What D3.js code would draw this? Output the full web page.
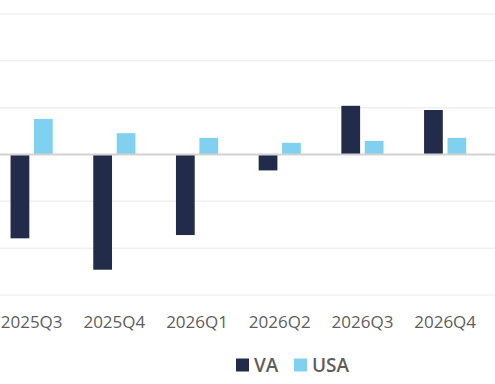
<!DOCTYPE html>
<html><head><meta charset="utf-8">
<script src="https://cdn.jsdelivr.net/npm/d3@7"></script>
<style>body{margin:0;background:#fff}svg{display:block}</style>
</head><body>
<svg id="c" width="495" height="384"></svg>
<script>
const categories = ["2025Q3","2025Q4","2026Q1","2026Q2","2026Q3","2026Q4"];
const seriesNames = ["VA","USA"];
const vaValues = [-1.79,-2.46,-1.72,-0.34,1.04,0.95];
const usaValues = [0.76,0.455,0.355,0.25,0.29,0.355];
const yTicks = [-3,-2,-1,0,1,2,3];
const colors = ["#222b4a","#80d0ef"];

const svg = d3.select("#c");
const x0 = d3.scaleBand().domain(categories).range([-9.7,486.5]).paddingInner(0.49).paddingOuter(0.245);
const x1 = d3.scaleBand().domain(seriesNames).range([0,x0.bandwidth()]).paddingInner(0.2);
const y = d3.scaleLinear().domain([-3,3]).range([295,14]);

svg.append("g").selectAll("line").data(yTicks.filter(d=>d!==0)).join("line")
  .attr("x1",0).attr("x2",495).attr("y1",d=>y(d)).attr("y2",d=>y(d))
  .attr("stroke","#f0f0f0").attr("stroke-width",1.5);

const data = categories.map((c,i)=>({c, vals:[vaValues[i],usaValues[i]]}));
const g = svg.append("g").selectAll("g").data(data).join("g")
  .attr("transform",d=>`translate(${x0(d.c)},0)`);
g.selectAll("rect").data(d=>d.vals.map((v,j)=>({s:seriesNames[j],v,j}))).join("rect")
  .attr("x",d=>x1(d.s)).attr("width",x1.bandwidth())
  .attr("y",d=>y(Math.max(0,d.v))).attr("height",d=>Math.abs(y(d.v)-y(0)))
  .attr("fill",d=>colors[d.j]);

svg.append("line").attr("x1",0).attr("x2",495).attr("y1",y(0)).attr("y2",y(0))
  .attr("stroke","#d2d2d2").attr("stroke-width",2);

const xAxis = svg.append("g");
xAxis.selectAll("text").data(categories).join("text")
  .attr("x",d=>x0(d)+x0.bandwidth()/2).attr("y",327.5)
  .attr("text-anchor","middle").attr("fill","#605e5c")
  .attr("font-family","'Open Sans', sans-serif").attr("font-size",17)
  .text(d=>d);

const leg = svg.append("g");
const legX = [236,294];
seriesNames.forEach((s,i)=>{
  leg.append("rect").attr("x",legX[i]).attr("y",358.5).attr("width",13).attr("height",13).attr("fill",colors[i]);
  leg.append("text").attr("x",legX[i]+18).attr("y",371.5).attr("fill","#605e5c")
    .attr("font-family","'Open Sans', sans-serif").attr("font-size",19).attr("font-weight",600).text(s);
});
</script>
</body></html>
